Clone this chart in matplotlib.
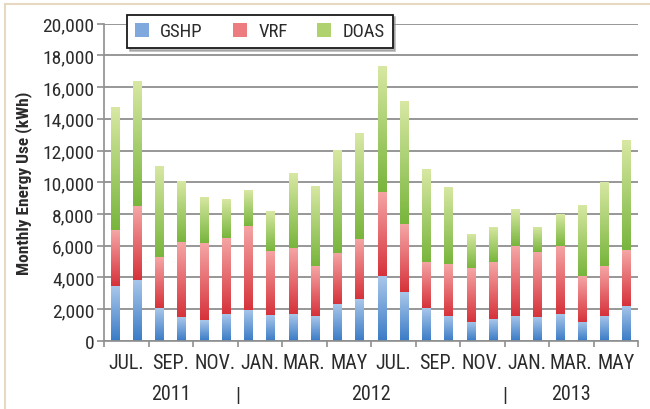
import numpy as np
import matplotlib
matplotlib.use("Agg")
import matplotlib.pyplot as plt
from matplotlib import font_manager
from matplotlib.colors import LinearSegmentedColormap
from matplotlib.lines import Line2D
from matplotlib.ticker import FixedLocator, NullFormatter, FixedFormatter, FuncFormatter
import matplotlib.transforms as mtransforms

# ---------------- data ----------------
categories = ["Jul 2011", "Aug 2011", "Sep 2011", "Oct 2011", "Nov 2011", "Dec 2011",
              "Jan 2012", "Feb 2012", "Mar 2012", "Apr 2012", "May 2012", "Jun 2012",
              "Jul 2012", "Aug 2012", "Sep 2012", "Oct 2012", "Nov 2012", "Dec 2012",
              "Jan 2013", "Feb 2013", "Mar 2013", "Apr 2013", "May 2013", "Jun 2013"]
gshp = [3470, 3850, 2060, 1510, 1310, 1680, 1960, 1620, 1680, 1540, 2300, 2630,
        4060, 3090, 2060, 1580, 1200, 1370, 1580, 1510, 1680, 1200, 1580, 2210]
vrf = [3530, 4630, 3200, 4700, 4830, 4800, 5300, 4040, 4190, 3150, 3230, 3790,
       5340, 4270, 2920, 3260, 3370, 3570, 4410, 4070, 4310, 2860, 3110, 3530]
doas = [7730, 7920, 5780, 3880, 2910, 2460, 2260, 2520, 4710, 5050, 6520, 6680,
        7910, 7740, 5850, 4880, 2160, 2250, 2320, 1610, 2000, 4500, 5340, 6920]
series_names = ["GSHP", "VRF", "DOAS"]
month_labels = ["JUL.", "SEP.", "NOV.", "JAN.", "MAR.", "MAY",
                "JUL.", "SEP.", "NOV.", "JAN.", "MAR.", "MAY"]
year_labels = ["2011", "2012", "2013"]
year_spans = [(0, 5), (6, 17), (18, 23)]
y_ticks = [0, 2000, 4000, 6000, 8000, 10000, 12000, 14000, 16000, 18000, 20000]

# ---------------- fonts ----------------
avail = {f.name for f in font_manager.fontManager.ttflist}
if "Liberation Sans Narrow" in avail:
    FAM = ["Liberation Sans Narrow", "DejaVu Sans"]
    STRETCH = "normal"
elif "Roboto Condensed" in avail:
    FAM = ["Roboto Condensed", "DejaVu Sans"]
    STRETCH = "normal"
else:
    FAM = ["DejaVu Sans"]
    STRETCH = "condensed"
plt.rcParams["font.family"] = FAM
plt.rcParams["font.stretch"] = STRETCH

TXT = "#2b2b2b"
GRID = "#8f8f8f"

# ---------------- figure ----------------
fig = plt.figure(figsize=(6.5, 4.1), dpi=100)
fig.patch.set_facecolor("white")
W, H = 650.0, 410.0
ax = fig.add_axes([104 / W, 1 - 341.7 / H, (638 - 104) / W, (341.7 - 24.7) / H])

x = np.arange(len(categories))
bw = 0.40
colors = [("#3a7bc6", "#a9c7ea", "#7fa8dc"),
          ("#d6323a", "#f5a6a6", "#ec7c7f"),
          ("#78b53c", "#d8e8a3", "#b0d26e")]
bottoms = np.zeros(len(x))
containers = []
for vals, name, (c_lo, c_hi, c_mid) in zip([gshp, vrf, doas], series_names, colors):
    cont = ax.bar(x, vals, bw, bottom=bottoms, color=c_mid, edgecolor="none",
                  label=name, zorder=2)
    containers.append((cont, c_lo, c_hi))
    bottoms = bottoms + np.array(vals)

grad = np.linspace(0, 1, 128).reshape(-1, 1)
for cont, c_lo, c_hi in containers:
    cmap = LinearSegmentedColormap.from_list("g", [c_lo, c_hi])
    for p in cont.patches:
        x0, y0 = p.get_xy()
        w, h = p.get_width(), p.get_height()
        im = ax.imshow(grad, extent=[x0, x0 + w, y0, y0 + h], origin="lower",
                       cmap=cmap, aspect="auto", zorder=2.5, interpolation="bilinear")
        im.set_clip_path(p)

ax.set_xlim(-0.5, len(x) - 0.5)
ax.set_ylim(0, 20000)
ax.set_aspect("auto")

# grid / spines
ax.set_axisbelow(True)
ax.yaxis.grid(True, color=GRID, linewidth=1.3)
ax.xaxis.grid(False)
for s in ["top", "right"]:
    ax.spines[s].set_visible(False)
for s in ["left", "bottom"]:
    ax.spines[s].set_color(GRID)
    ax.spines[s].set_linewidth(1.2)

# y ticks
ax.yaxis.set_major_locator(FixedLocator(y_ticks))
ax.yaxis.set_major_formatter(FuncFormatter(lambda v, pos: f"{int(v):,}"))
ax.tick_params(axis="y", which="major", length=5, width=1.2, color=GRID,
               labelsize=14, labelcolor=TXT, pad=2)

# x ticks: boundaries every 2 months (marks), labels centred between
ax.xaxis.set_major_locator(FixedLocator(np.arange(-0.5, len(x), 2)))
ax.xaxis.set_major_formatter(NullFormatter())
ax.xaxis.set_minor_locator(FixedLocator(np.arange(0.5, len(x), 2)))
ax.xaxis.set_minor_formatter(FixedFormatter(month_labels))
ax.tick_params(axis="x", which="major", length=4, width=1.2, color=GRID)
ax.tick_params(axis="x", which="minor", length=0, labelsize=14.5, labelcolor=TXT, pad=9)

# year row
trans = mtransforms.blended_transform_factory(ax.transData, ax.transAxes)
for lab, (a, b) in zip(year_labels, year_spans):
    ax.text((a + b) / 2, -0.168, lab, transform=trans, ha="center", va="center",
            fontsize=14.5, color=TXT, clip_on=False)
for a, b in year_spans[1:]:
    ax.text(a - 0.5, -0.172, "|", transform=trans, ha="center", va="center",
            fontsize=15, color=TXT, clip_on=False)

ax.set_ylabel("Monthly Energy Use (kWh)", fontsize=12.5, fontweight="bold", color=TXT)
ax.yaxis.set_label_coords(-0.135, 0.5)

# legend
handles = [c for c, _, _ in containers]
leg = fig.legend(handles, series_names, loc="upper left",
                 bbox_to_anchor=(127 / W, 1 - 15.5 / H), ncol=3, fontsize=13.5,
                 frameon=True, fancybox=False, edgecolor="#1a1a1a", facecolor="white",
                 framealpha=1, handlelength=0.75, handleheight=0.75, handletextpad=0.6,
                 columnspacing=1.6, borderpad=0.42, borderaxespad=0, labelcolor=TXT,
                 shadow={"color": "0.55", "alpha": 0.55})
leg.get_frame().set_linewidth(1.3)

# outer tan frame (top and left)
fig.add_artist(Line2D([5 / W, 1], [1 - 4.5 / H, 1 - 4.5 / H], color="#e6d8c1", linewidth=1.5,
                      transform=fig.transFigure))
fig.add_artist(Line2D([5 / W, 5 / W], [0, 1 - 4.5 / H], color="#e6d8c1", linewidth=1.5,
                      transform=fig.transFigure))

fig.savefig("out.png", dpi=100)
